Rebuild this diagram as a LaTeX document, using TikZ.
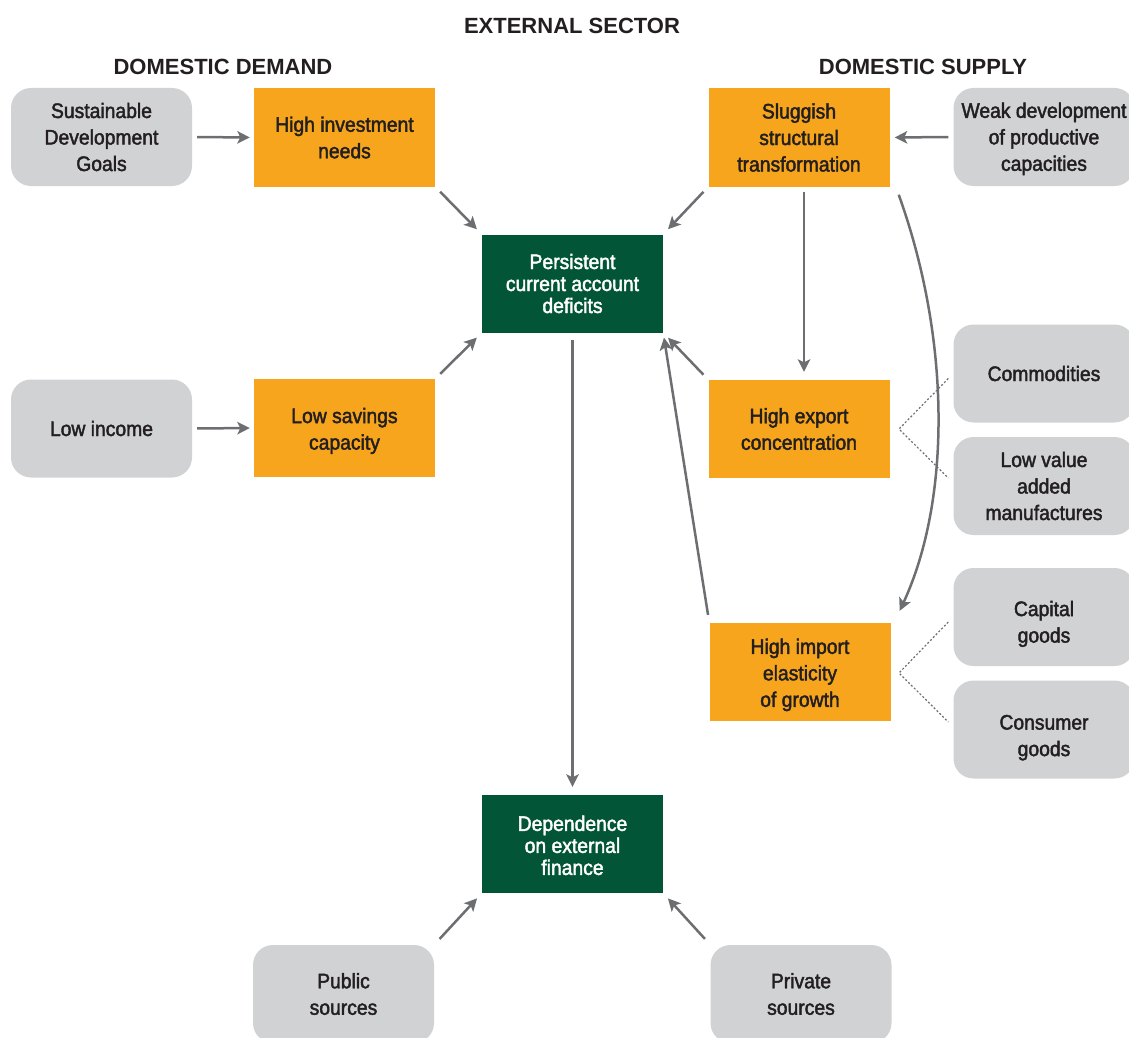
\documentclass[tikz,border=0pt]{standalone}
\usepackage{fontspec}
\setmainfont{Liberation Sans}
\newfontfamily\cond{Liberation Sans}[FakeStretch=0.92,FakeBold=2]
\usetikzlibrary{arrows.meta,calc}
\definecolor{orangefill}{HTML}{F7A51C}
\definecolor{greenfill}{HTML}{035537}
\definecolor{grayfill}{HTML}{D1D2D4}
\definecolor{arrowgray}{HTML}{6D6E71}
\definecolor{textdark}{HTML}{231F20}
\newcommand\lift[1]{\rule{0pt}{#1pt}}
\begin{document}
\begin{tikzpicture}[x=1pt,y=-1pt,
  base/.style={minimum width=181pt,minimum height=98pt,inner sep=0pt,align=center,
    font=\cond\fontsize{21}{26.5}\selectfont,text=textdark},
  obox/.style={base,fill=orangefill},
  gbox/.style={base,fill=greenfill,text=white,font=\cond\fontsize{21}{22}\selectfont},
  rbox/.style={base,fill=grayfill,rounded corners=20pt},
  arr/.style={draw=arrowgray,line width=2.5pt,-{Stealth[length=12.5pt,width=12.5pt,inset=3pt]}},
  dots/.style={draw=arrowgray,line width=1.2pt,dash pattern=on 2pt off 2pt},
  hdr/.style={font=\bfseries\fontsize{22}{26}\selectfont,text=textdark,inner sep=0pt,anchor=base}
]
\useasboundingbox (0,0) rectangle (1129,1038);
\clip (0,0) rectangle (1129,1038);

% headers
\node[hdr] (hext) at (572,34) {EXTERNAL SECTOR};
\node[hdr] (hdem) at (223,75) {DOMESTIC DEMAND};
\node[hdr] (hsup) at (923,75) {DOMESTIC SUPPLY};

% boxes
\node[rbox] (sdg) at (101.5,137) {Sustainable\\Development\\Goals};
\node[obox] (hinv) at (344.5,137.5) {High investment\\needs};
\node[obox] (slug) at (799,137.5) {Sluggish\\structural\\transformation};
\node[rbox] (weak) at (1044,137) {\lift{19}Weak development\\of productive\\capacities};
\node[gbox] (pers) at (572.5,283.5) {Persistent\\current account\\deficits};
\node[rbox] (lowinc) at (101.5,428.5) {Low income};
\node[obox] (lsav) at (344.5,428) {\lift{21}Low savings\\capacity};
\node[obox] (hexp) at (799,429) {High export\\concentration};
\node[rbox] (comm) at (1044,373.5) {Commodities};
\node[rbox] (lva) at (1044,486) {Low value\\added\\manufactures};
\node[obox] (himp) at (800,672) {\lift{21}High import\\elasticity\\of growth};
\node[rbox] (cap) at (1044,617) {\lift{29}Capital\\goods};
\node[rbox] (cons) at (1044,729.5) {\lift{31}Consumer\\goods};
\node[gbox] (dep) at (572.5,844) {\lift{18}Dependence\\on external\\finance};
\node[rbox] (pub) at (343.5,994) {Public\\sources};
\node[rbox] (priv) at (801,994) {Private\\sources};

% arrows
\draw[arr,shorten <=5pt,shorten >=4pt] (sdg.east) -- (hinv.west);
\draw[arr,shorten <=5pt,shorten >=4pt] (lowinc.east) -- (lsav.west);
\draw[arr,shorten <=5pt,shorten >=5pt] (weak.west) -- (slug.east);
\draw[arr,shorten <=7pt,shorten >=7pt] (hinv.south east) -- (pers.north west);
\draw[arr,shorten <=7pt,shorten >=7pt] (lsav.north east) -- (pers.south west);
\draw[arr,shorten <=7pt,shorten >=7pt] (slug.south west) -- (pers.north east);
\draw[arr,shorten <=7pt,shorten >=7pt] (hexp.north west) -- (pers.south east);
\draw[arr,shorten <=5pt,shorten >=8pt] ([xshift=5pt]slug.south) -- ([xshift=5pt]hexp.north);
\draw[arr,shorten <=8pt,shorten >=5pt] (himp.north west) -- (pers.south east);
\draw[arr,shorten <=7pt,shorten >=8pt] (pers.south) -- (dep.north);
\draw[arr,shorten <=8pt,shorten >=7pt] (pub.north east) -- (dep.south west);
\draw[arr,shorten <=8pt,shorten >=7pt] (priv.north west) -- (dep.south east);
\draw[arr] ([shift={(9,8)}]slug.south east) .. controls (951,340) and (951,500) .. ([shift={(9,-12)}]himp.north east);

% dotted connectors
\coordinate (ev) at (899,429);
\coordinate (iv) at (899,673);
\draw[dots] ([shift={(-5,5)}]comm.west) -- (ev) -- ([shift={(-5,-8)}]lva.west);
\draw[dots] ([shift={(-5,5)}]cap.west) -- (iv) -- ([shift={(-5,-7.5)}]cons.west);
\end{tikzpicture}
\end{document}
